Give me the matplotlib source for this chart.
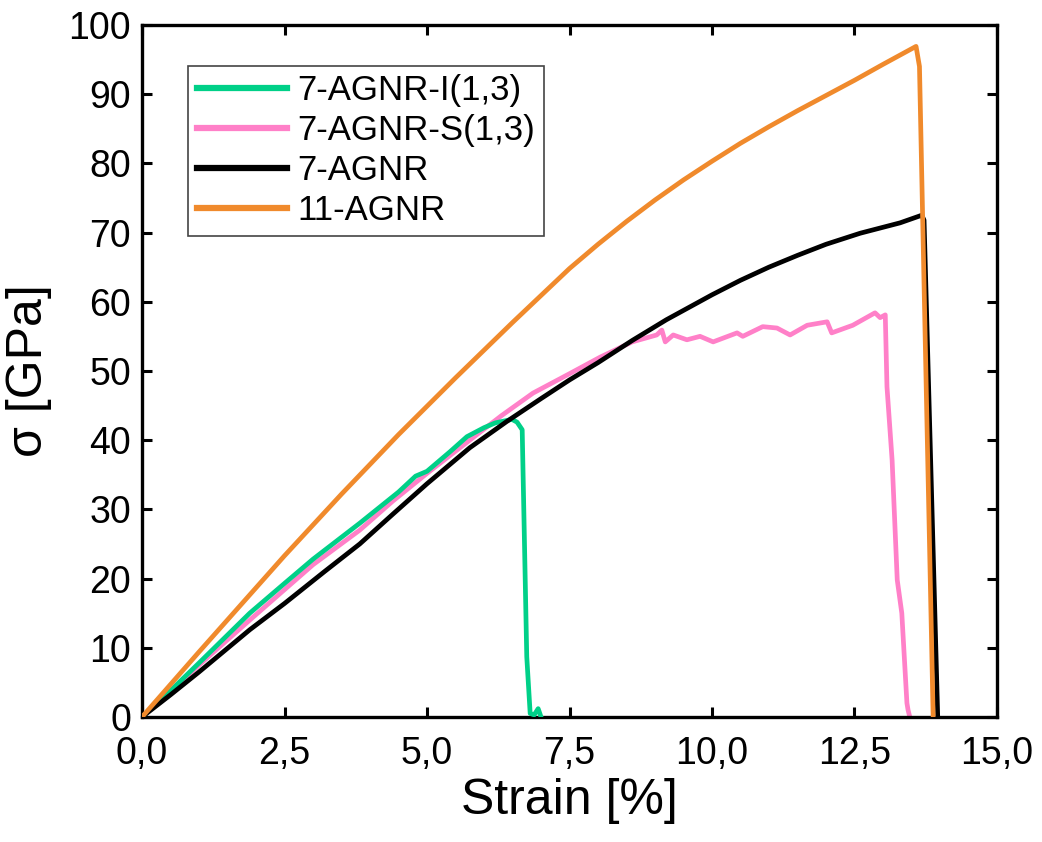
import matplotlib.pyplot as plt
from matplotlib.ticker import FixedLocator

plt.rcParams['font.family'] = ['Liberation Sans', 'DejaVu Sans']

# Strain [%] / stress [GPa]
i13_x = [0, 0.5, 1.0, 1.89, 2.5, 3.0, 3.82, 4.5, 4.8, 5.0, 5.4, 5.7, 6.0, 6.2, 6.49, 6.58, 6.67,
         6.75, 6.81, 6.88, 6.95, 7.0]
i13_y = [0, 3.8, 7.8, 15.0, 19.3, 22.8, 28.0, 32.5, 34.8, 35.5, 38.3, 40.5, 41.8, 42.5, 43.0, 42.6, 41.5,
         8.7, 0.5, 0.3, 1.2, 0]

s13_x = [0, 0.5, 1.0, 1.89, 2.5, 3.0, 3.82, 4.4, 5.0, 5.75, 6.3, 6.86, 7.5, 8.04, 8.6, 9.03, 9.12,
         9.18, 9.32, 9.56, 9.79, 10.02, 10.44, 10.54, 10.89, 11.14, 11.37, 11.67, 12.02, 12.1,
         12.47, 12.86, 12.95, 13.04, 13.07, 13.16, 13.25, 13.33, 13.42, 13.44, 13.47]
s13_y = [0, 3.6, 7.5, 14.0, 18.4, 22.0, 27.0, 31.2, 35.2, 40.0, 43.5, 46.8, 49.6, 52.0, 54.2, 55.2, 55.9,
         54.2, 55.2, 54.5, 55.0, 54.2, 55.5, 55.0, 56.4, 56.2, 55.2, 56.6, 57.1, 55.5,
         56.6, 58.4, 57.7, 58.1, 47.7, 37.1, 19.8, 15.0, 2.0, 1.0, 0]

agnr7_x = [0, 0.5, 1.0, 1.89, 2.5, 3.2, 3.82, 4.4, 5.0, 5.75, 6.4, 7.0, 7.5, 8.0, 8.6, 9.2, 9.6,
           10.0, 10.5, 11.0, 11.5, 12.0, 12.6, 13.3, 13.68, 13.72, 13.96]
agnr7_y = [0, 3.2, 6.5, 12.6, 16.4, 21.0, 25.0, 29.3, 33.7, 38.9, 42.7, 46.0, 48.7, 51.2, 54.4, 57.4, 59.2,
           61.0, 63.1, 65.0, 66.7, 68.3, 69.9, 71.4, 72.5, 71.8, 0]

agnr11_x = [0, 1.0, 2.5, 3.5, 4.5, 5.5, 6.5, 7.5, 8.0, 8.5, 9.0, 9.5, 10.0, 10.5, 11.0, 11.5,
            12.0, 12.5, 13.0, 13.58, 13.64, 13.88]
agnr11_y = [0, 9.4, 23.3, 32.2, 40.8, 49.0, 57.0, 64.8, 68.3, 71.6, 74.7, 77.6, 80.3, 82.9, 85.3, 87.6,
            89.8, 92.0, 94.3, 96.9, 94.0, 0]

xticks = [0, 2.5, 5, 7.5, 10, 12.5, 15]
xtick_labels = ['0,0', '2,5', '5,0', '7,5', '10,0', '12,5', '15,0']
yticks = [0, 10, 20, 30, 40, 50, 60, 70, 80, 90, 100]

fig = plt.figure(figsize=(10.42, 8.42), dpi=100)
ax = fig.add_axes([0.1363, 0.1485, 0.8205, 0.8219])

lw = 3.4
l_pink, = ax.plot(s13_x, s13_y, color='#FF80C8', lw=lw, zorder=2, label='7-AGNR-S(1,3)')
l_green, = ax.plot(i13_x, i13_y, color='#00D088', lw=lw, zorder=3, label='7-AGNR-I(1,3)')
l_black, = ax.plot(agnr7_x, agnr7_y, color='black', lw=lw, zorder=4, label='7-AGNR')
l_orange, = ax.plot(agnr11_x, agnr11_y, color='#F08A2C', lw=lw, zorder=5, label='11-AGNR')

ax.set_xlim(0, 15)
ax.set_ylim(0, 100)
ax.xaxis.set_major_locator(FixedLocator(xticks))
ax.set_xticklabels(xtick_labels)
ax.set_yticks(yticks)
ax.tick_params(direction='in', top=True, right=True, length=7, width=2.2,
               labelsize=27, pad=8)
ax.tick_params(axis='x', pad=14)
for sp in ax.spines.values():
    sp.set_linewidth(2.4)

ax.set_xlabel('Strain [%]', fontsize=36, labelpad=4)
ax.set_ylabel('σ [GPa]', fontsize=36, labelpad=12)

leg = ax.legend(handles=[l_green, l_pink, l_black, l_orange], loc='upper left',
                bbox_to_anchor=(0.054, 0.941), fontsize=25, frameon=True, fancybox=False,
                edgecolor='#444444', framealpha=1, handlelength=2.6, handletextpad=0.3,
                labelspacing=0.2, borderpad=0.25, borderaxespad=0)
leg.get_frame().set_linewidth(1.2)
for h in leg.get_lines():
    h.set_linewidth(4.5)

fig.savefig('out.png', dpi=100)
